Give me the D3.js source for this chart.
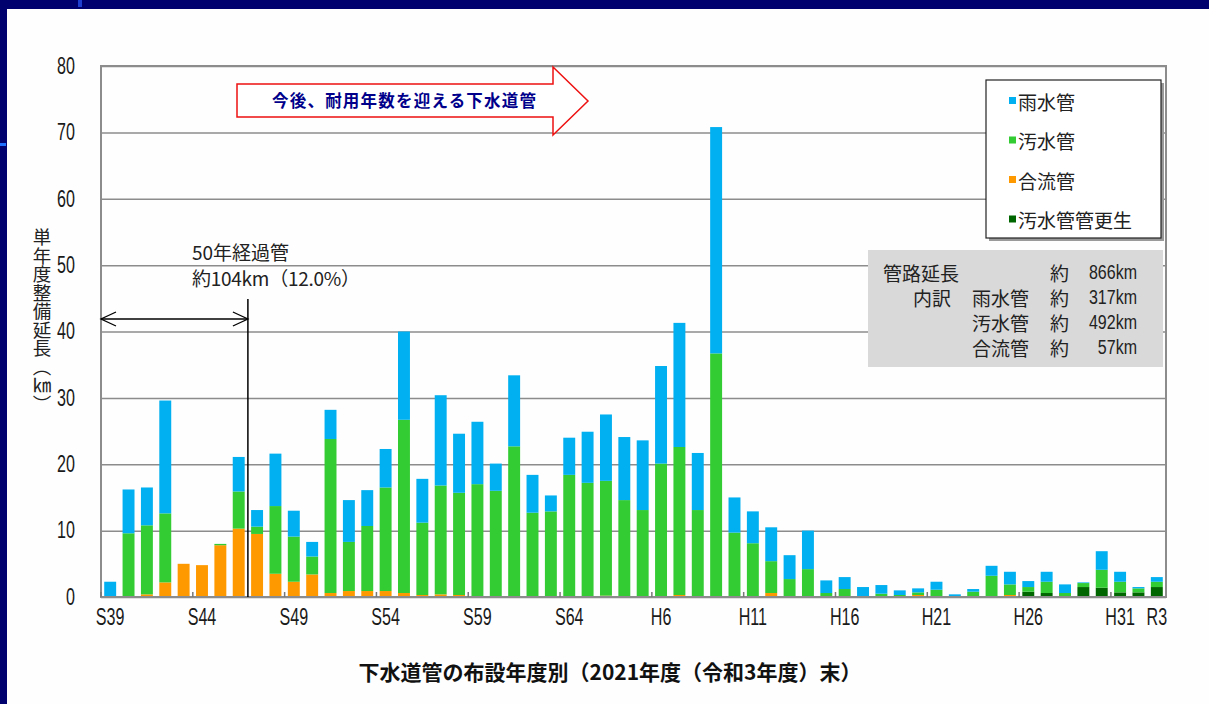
<!DOCTYPE html>
<html>
<head>
<meta charset="utf-8">
<title>下水道管の布設年度別</title>
<script src="https://cdnjs.cloudflare.com/ajax/libs/d3/7.8.5/d3.min.js"></script>
<style>
    body { margin: 0; background: #00006e; }
    #renderer { display: block; }
    .jp { font-family: 'Noto Sans CJK JP', sans-serif; }
    .num { font-family: 'Liberation Sans', Arial, sans-serif; }
</style>
</head>
<body>
<svg id="renderer" width="1209" height="704"></svg>
<script>
    // 布設年度 (S64 = H1)
    var years = ['S39', 'S40', 'S41', 'S42', 'S43', 'S44', 'S45', 'S46', 'S47', 'S48',
        'S49', 'S50', 'S51', 'S52', 'S53', 'S54', 'S55', 'S56', 'S57', 'S58',
        'S59', 'S60', 'S61', 'S62', 'S63', 'S64', 'H2', 'H3', 'H4', 'H5',
        'H6', 'H7', 'H8', 'H9', 'H10', 'H11', 'H12', 'H13', 'H14', 'H15',
        'H16', 'H17', 'H18', 'H19', 'H20', 'H21', 'H22', 'H23', 'H24', 'H25',
        'H26', 'H27', 'H28', 'H29', 'H30', 'H31', 'R2', 'R3'];
    var yearLabels = ['S39', 'S44', 'S49', 'S54', 'S59', 'S64', 'H6', 'H11', 'H16', 'H21', 'H26', 'H31', 'R3'];
    var yTicks = [0, 10, 20, 30, 40, 50, 60, 70, 80];

    // 単年度整備延長 (km)
    var kousei = [0, 0, 0, 0, 0, 0, 0, 0, 0, 0,
        0, 0, 0, 0, 0, 0, 0, 0, 0, 0,
        0, 0, 0, 0, 0, 0, 0, 0, 0, 0,
        0, 0, 0, 0, 0, 0, 0, 0, 0, 0,
        0, 0, 0, 0, 0, 0, 0, 0, 0, 0,
        0.8, 0.6, 0, 1.5, 1.4, 0.7, 0.7, 1.5];
    var goryu = [0, 0, 0.4, 2.2, 5.0, 4.8, 7.8, 10.3, 9.5, 3.5,
        2.3, 3.4, 0.6, 0.9, 0.9, 0.9, 0.6, 0.3, 0.4, 0.3,
        0, 0, 0, 0, 0, 0, 0, 0.2, 0, 0,
        0, 0.3, 0, 0, 0, 0, 0.6, 0, 0, 0,
        0, 0, 0, 0, 0.3, 0, 0, 0, 0, 0.3,
        0, 0, 0, 0, 0, 0, 0, 0];
    var osui = [0, 9.6, 10.4, 10.4, 0, 0, 0.2, 5.6, 1.1, 10.2,
        6.8, 2.7, 23.2, 7.4, 9.8, 15.6, 26.1, 10.9, 16.4, 15.4,
        17.0, 16.0, 22.7, 12.7, 12.9, 18.4, 17.2, 17.3, 14.6, 13.1,
        20.1, 22.3, 13.1, 36.7, 9.7, 8.1, 4.8, 2.7, 4.2, 0.6,
        1.2, 0, 0.5, 0.3, 0.4, 1.1, 0, 0.8, 3.2, 1.6,
        0.7, 1.7, 0.6, 0.6, 2.7, 1.6, 0.6, 0.8];
    var usui = [2.3, 6.6, 5.7, 17.0, 0, 0, 0, 5.2, 2.5, 7.9,
        3.9, 2.2, 4.4, 6.3, 5.4, 5.8, 13.3, 6.6, 13.6, 8.9,
        9.4, 4.1, 10.7, 5.7, 2.4, 5.6, 7.7, 10.0, 9.5, 10.5,
        14.7, 18.7, 8.6, 34.1, 5.3, 4.8, 5.1, 3.6, 5.8, 1.9,
        1.8, 1.5, 1.3, 0.7, 0.6, 1.2, 0.4, 0.4, 1.5, 1.9,
        0.9, 1.5, 1.3, 0.1, 2.8, 1.5, 0.2, 0.7];

    var seriesKeys = ['kousei', 'goryu', 'osui', 'usui'];
    var seriesColor = {
        kousei: '#006600',
        goryu: '#ff9900',
        osui: '#33cc33',
        usui: '#00b0f0'
    };
    // 凡例の並び (上から)
    var legendItems = [
        { key: 'usui', name: '雨水管' },
        { key: 'osui', name: '汚水管' },
        { key: 'goryu', name: '合流管' },
        { key: 'kousei', name: '汚水管管更生' }
    ];

    var root = d3.select('#renderer');
    var totalWidth = 1209;
    var totalHeight = 704;

    var plotLeft = 101;
    var plotRight = 1166;
    var plotTop = 66;
    var plotBottom = 597;

    // 数字は縦長の細い書体なので横方向だけ縮める
    var narrow = 0.7;

    // 背景 (紺の枠と白いパネル)
    root.append('rect').attr('width', totalWidth).attr('height', totalHeight).attr('fill', '#00006e');
    root.append('rect').attr('x', 7).attr('y', 9).attr('width', totalWidth - 7).attr('height', totalHeight - 9).attr('fill', '#fefefe');
    root.append('rect').attr('x', 78).attr('y', 0).attr('width', 4).attr('height', 7).attr('fill', '#1f3fd0');
    root.append('rect').attr('x', 0).attr('y', 143).attr('width', 6).attr('height', 3).attr('fill', '#1f6fff');

    var table = years.map(function (yr, i) {
        return { year: yr, kousei: kousei[i], goryu: goryu[i], osui: osui[i], usui: usui[i] };
    });
    var stacked = d3.stack().keys(seriesKeys)(table);

    var x = d3.scaleBand()
        .domain(years)
        .range([plotLeft, plotRight])
        .paddingInner(0.35)
        .paddingOuter(0.175);
    var y = d3.scaleLinear().domain([0, 80]).range([plotBottom, plotTop]);

    // グリッド
    var grid = root.append('g')
        .attr('transform', 'translate(' + plotLeft + ',0)')
        .call(d3.axisLeft(y).tickValues(yTicks).tickSize(-(plotRight - plotLeft)).tickFormat(''));
    grid.select('.domain').remove();
    grid.selectAll('line').attr('stroke', '#8c8c8c').attr('stroke-width', 1.5);

    // 縦軸ラベル
    var yAxis = root.append('g')
        .attr('transform', 'translate(' + plotLeft + ',0)')
        .call(d3.axisLeft(y).tickValues(yTicks).tickSize(0).tickPadding(26 / narrow));
    yAxis.select('.domain').remove();
    yAxis.selectAll('text')
        .attr('class', 'num')
        .attr('font-size', 23)
        .attr('transform', 'scale(' + narrow + ',1)')
        .attr('fill', '#1a1a1a');

    // 棒
    root.append('g').selectAll('g')
        .data(stacked)
        .join('g')
        .attr('fill', function (d) { return seriesColor[d.key]; })
        .selectAll('rect')
        .data(function (d) { return d; })
        .join('rect')
        .attr('x', function (d) { return x(d.data.year); })
        .attr('width', x.bandwidth())
        .attr('y', function (d) { return y(d[1]); })
        .attr('height', function (d) { return y(d[0]) - y(d[1]); });

    // 枠
    root.append('rect')
        .attr('x', plotLeft).attr('y', plotTop)
        .attr('width', plotRight - plotLeft).attr('height', plotBottom - plotTop)
        .attr('fill', 'none').attr('stroke', '#8c8c8c').attr('stroke-width', 2);

    // 横軸
    var xAxis = root.append('g')
        .attr('transform', 'translate(0,' + plotBottom + ')')
        .call(d3.axisBottom(x).tickValues(yearLabels).tickSize(0).tickPadding(12));
    xAxis.select('.domain').remove();
    xAxis.selectAll('text')
        .attr('class', 'num')
        .attr('font-size', 23)
        .attr('transform', 'scale(' + narrow + ',1)')
        .attr('fill', '#1a1a1a');

    // 5年ごとの目盛 (区切り位置)
    var tickIdx = d3.range(0, years.length, 5);
    root.append('g').selectAll('line')
        .data(tickIdx)
        .join('line')
        .attr('x1', function (i) { return x.range()[0] + i * x.step(); })
        .attr('x2', function (i) { return x.range()[0] + i * x.step(); })
        .attr('y1', plotBottom)
        .attr('y2', plotBottom - 5)
        .attr('stroke', '#777')
        .attr('stroke-width', 1.5);

    // 縦軸タイトル (縦書き)
    root.append('text')
        .attr('class', 'jp')
        .attr('x', 42)
        .attr('y', 228)
        .attr('writing-mode', 'vertical-rl')
        .style('writing-mode', 'vertical-rl')
        .attr('font-size', 18.5)
        .attr('fill', '#222')
        .text('単年度整備延長（㎞）');

    // 今後、耐用年数を迎える下水道管 (右向き矢印)
    var arrowPath = [[237, 84], [553, 84], [553, 67], [588, 101], [553, 135], [553, 117], [237, 117]];
    root.append('path')
        .attr('d', d3.line()(arrowPath) + 'Z')
        .attr('fill', '#fff')
        .attr('stroke', '#ee1111')
        .attr('stroke-width', 1.5);
    root.append('text')
        .attr('class', 'jp')
        .attr('x', 272)
        .attr('y', 107)
        .attr('font-size', 16.5)
        .attr('font-weight', 'bold')
        .attr('fill', '#00008b')
        .attr('textLength', 264)
        .attr('lengthAdjust', 'spacing')
        .text('今後、耐用年数を迎える下水道管');

    // 50年経過管
    var boundaryX = x.range()[0] + years.indexOf('S47') * x.step();
    root.append('text').attr('class', 'jp')
        .attr('x', 192).attr('y', 260)
        .attr('font-size', 19).attr('fill', '#222')
        .text('50年経過管');
    root.append('text').attr('class', 'jp')
        .attr('x', 192).attr('y', 286)
        .attr('font-size', 19).attr('fill', '#222')
        .attr('textLength', 168)
        .text('約104km（12.0%）');
    root.append('line')
        .attr('x1', boundaryX).attr('x2', boundaryX)
        .attr('y1', 299).attr('y2', plotBottom)
        .attr('stroke', '#000').attr('stroke-width', 1.5);
    root.append('line')
        .attr('x1', plotLeft).attr('x2', boundaryX)
        .attr('y1', 319).attr('y2', 319)
        .attr('stroke', '#000').attr('stroke-width', 1.3);
    root.append('path')
        .attr('d', 'M' + (plotLeft + 15) + ',312 L' + plotLeft + ',319 L' + (plotLeft + 15) + ',326')
        .attr('fill', 'none').attr('stroke', '#000').attr('stroke-width', 1.3);
    root.append('path')
        .attr('d', 'M' + (boundaryX - 15) + ',312 L' + boundaryX + ',319 L' + (boundaryX - 15) + ',326')
        .attr('fill', 'none').attr('stroke', '#000').attr('stroke-width', 1.3);

    // 凡例
    var legendX = 986, legendY = 80, legendW = 175, legendH = 158;
    root.append('rect')
        .attr('x', legendX + 3).attr('y', legendY + 3)
        .attr('width', legendW).attr('height', legendH)
        .attr('fill', '#9a9a9a');
    root.append('rect')
        .attr('x', legendX).attr('y', legendY)
        .attr('width', legendW).attr('height', legendH)
        .attr('fill', '#fff').attr('stroke', '#222').attr('stroke-width', 1.2);
    var legendRow = root.append('g').selectAll('g')
        .data(legendItems)
        .join('g')
        .attr('transform', function (d, i) { return 'translate(' + (legendX + 23) + ',' + (legendY + 21 + i * 39.5) + ')'; });
    legendRow.append('rect')
        .attr('x', 0).attr('y', -4).attr('width', 7).attr('height', 7)
        .attr('fill', function (d) { return seriesColor[d.key]; });
    legendRow.append('text')
        .attr('class', 'jp')
        .attr('x', 9).attr('y', 0)
        .attr('dominant-baseline', 'central')
        .attr('font-size', 19).attr('fill', '#222')
        .text(function (d) { return d.name; });

    // 管路延長の内訳
    root.append('rect')
        .attr('x', 868).attr('y', 250).attr('width', 295).attr('height', 117)
        .attr('fill', '#d9d9d9');
    var summaryRows = [
        { head: '管路延長', kind: '', len: '866km' },
        { head: '内訳', kind: '雨水管', len: '317km' },
        { head: '', kind: '汚水管', len: '492km' },
        { head: '', kind: '合流管', len: '57km' }
    ];
    var sRow = root.append('g').selectAll('g')
        .data(summaryRows)
        .join('g')
        .attr('transform', function (d, i) { return 'translate(0,' + (272 + i * 25) + ')'; });
    sRow.append('text').attr('class', 'jp')
        .attr('x', function (d, i) { return i === 0 ? 883 : 913; })
        .attr('dominant-baseline', 'central')
        .attr('font-size', 19).attr('fill', '#222')
        .text(function (d) { return d.head; });
    sRow.append('text').attr('class', 'jp')
        .attr('x', 972)
        .attr('dominant-baseline', 'central')
        .attr('font-size', 19).attr('fill', '#222')
        .text(function (d) { return d.kind; });
    sRow.append('text').attr('class', 'jp')
        .attr('x', 1050)
        .attr('dominant-baseline', 'central')
        .attr('font-size', 19).attr('fill', '#222')
        .text('約');
    sRow.append('text').attr('class', 'num')
        .attr('transform', 'translate(1137,0) scale(0.8,1)')
        .attr('dominant-baseline', 'central')
        .attr('text-anchor', 'end')
        .attr('font-size', 20).attr('fill', '#222')
        .text(function (d) { return d.len; });

    // 横軸タイトル
    root.append('text')
        .attr('class', 'jp')
        .attr('x', 610)
        .attr('y', 680)
        .attr('text-anchor', 'middle')
        .attr('font-size', 21)
        .attr('font-weight', 'bold')
        .attr('fill', '#111')
        .text('下水道管の布設年度別（2021年度（令和3年度）末）');
</script>
</body>
</html>
